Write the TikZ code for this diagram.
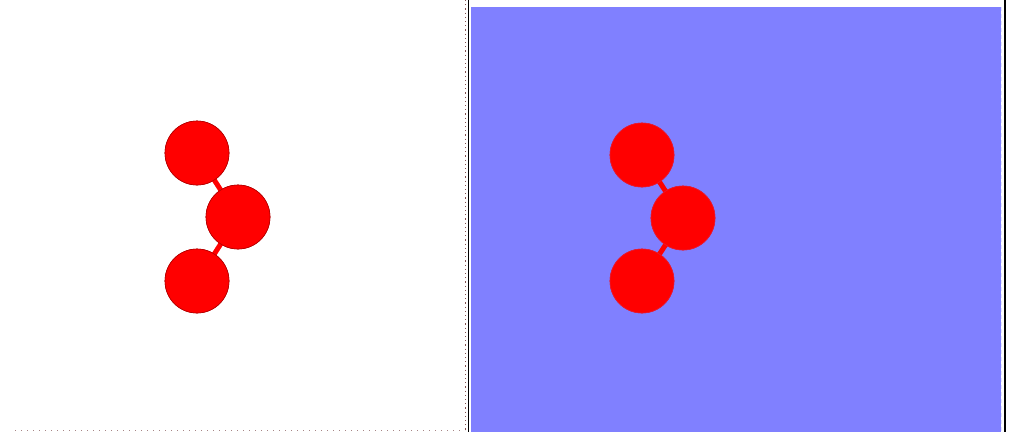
\documentclass[tikz,border=0pt]{standalone}
\definecolor{panelblue}{HTML}{8080FF}
\definecolor{dotred}{HTML}{805050}
\tikzset{
  ball/.style={circle, fill=red, draw=red!70!black, line width=0.6pt, minimum size=64pt, inner sep=0pt},
  bond/.style={red, line width=5pt},
}
\begin{document}
\begin{tikzpicture}[x=1pt,y=-1pt]
\useasboundingbox (0,0) rectangle (1012,432);
\fill[white] (0,0) rectangle (1012,432);
% right panel background
\fill[panelblue] (471,7) rectangle (1001,432);
% separators
\draw[dotred, line width=1.2pt, dash pattern=on 1.2pt off 3pt] (465.8,0) -- (465.8,432);
\draw[black, line width=1.6pt] (468.6,0) -- (468.6,432);
\draw[dotred!70, line width=1pt, dash pattern=on 1pt off 5pt] (15,430.5) -- (465,430.5);
\draw[white!80!panelblue, line width=1.5pt, dash pattern=on 4pt off 3pt] (1001.5,7) -- (1001.5,432);
\draw[black, line width=2pt] (1005,0) -- (1005,432);
% left molecule
\node[ball] (la) at (197,153) {};
\node[ball] (lb) at (238,217) {};
\node[ball] (lc) at (197,281) {};
\draw[bond] (la.center) -- (lb.center);
\draw[bond] (lb.center) -- (lc.center);
\node[ball] at (la) {};
\node[ball] at (lb) {};
\node[ball] at (lc) {};
% right molecule
\node[ball, draw=red!80!panelblue] (ra) at (642,155) {};
\node[ball, draw=red!80!panelblue] (rb) at (683,218) {};
\node[ball, draw=red!80!panelblue] (rc) at (642,281) {};
\draw[bond] (ra.center) -- (rb.center);
\draw[bond] (rb.center) -- (rc.center);
\node[ball, draw=red!80!panelblue] at (ra) {};
\node[ball, draw=red!80!panelblue] at (rb) {};
\node[ball, draw=red!80!panelblue] at (rc) {};
\end{tikzpicture}
\end{document}
